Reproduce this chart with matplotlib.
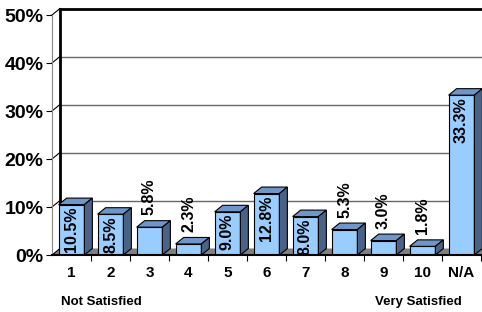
import matplotlib.pyplot as plt
from matplotlib.patches import Polygon

plt.rcParams['font.family'] = ['Liberation Sans', 'DejaVu Sans']

categories = ['1', '2', '3', '4', '5', '6', '7', '8', '9', '10', 'N/A']
values = [10.5, 8.5, 5.8, 2.3, 9.0, 12.8, 8.0, 5.3, 3.0, 1.8, 33.3]
labels = ['10.5%', '8.5%', '5.8%', '2.3%', '9.0%', '12.8%', '8.0%', '5.3%', '3.0%', '1.8%', '33.3%']
yticks = [0, 10, 20, 30, 40, 50]

front = '#99ccff'
top = '#6e96c8'
side = '#4a6285'

fig = plt.figure(figsize=(4.82, 3.12), dpi=100)
ax = fig.add_axes([52/482, 57/312, 429/482, 240/312])
ax.set_xlim(-0.5, len(categories) - 0.5)
ax.set_ylim(0, 50)

# depth of the fake 3d, in data units
dx = 8/39
dy = 6.5/4.8
x0, x1 = -0.5, len(categories) - 0.5

# floor
ax.add_patch(Polygon([(x0, 0), (x1, 0), (x1 + dx, dy), (x0 + dx, dy)],
                     closed=True, facecolor='#808080', edgecolor='none', zorder=1, clip_on=False))

# back wall grid
for g in yticks[1:-1]:
    ax.plot([x0 + dx, x1 + dx + 1], [g + dy, g + dy], color='#666666', lw=1, zorder=1, clip_on=False)
ax.plot([x0 + dx, x1 + dx + 1], [50 + dy, 50 + dy], color='black', lw=2, zorder=1, clip_on=False)
ax.plot([x0 + dx, x0 + dx], [dy, 50 + dy], color='black', lw=2, zorder=1, clip_on=False)
for g in yticks:
    ax.plot([x0, x0 + dx], [g, g + dy], color='black', lw=0.8, zorder=1, clip_on=False)

x = list(range(len(categories)))
w = 0.66
ax.bar(x, values, width=w, color=front, edgecolor='black', lw=0.8, zorder=3)
for xi, v, lab in zip(x, values, labels):
    a, b = xi - w/2, xi + w/2
    ax.add_patch(Polygon([(a, v), (b, v), (b + dx, v + dy), (a + dx, v + dy)],
                         closed=True, facecolor=top, edgecolor='black', lw=0.8, zorder=3, clip_on=False))
    ax.add_patch(Polygon([(b, 0), (b + dx, dy), (b + dx, v + dy), (b, v)],
                         closed=True, facecolor=side, edgecolor='black', lw=0.8, zorder=3, clip_on=False))
    if v >= 8:
        ax.annotate(lab, (xi, v), xytext=(0, -1.5), textcoords='offset points', rotation=90,
                    ha='center', va='top', fontsize=11.5, fontweight='bold', zorder=4)
    else:
        ax.annotate(lab, (xi, v + dy), xytext=(0, 4), textcoords='offset points', rotation=90,
                    ha='center', va='bottom', fontsize=11.5, fontweight='bold', zorder=4)

ax.spines['top'].set_visible(False)
ax.spines['right'].set_visible(False)
ax.spines['left'].set_color('#888888')
ax.spines['bottom'].set_linewidth(1.5)
ax.spines['bottom'].set_zorder(5)

ax.set_yticks(yticks)
ax.set_yticklabels([f'{t}%' for t in yticks], fontsize=14, fontweight='bold')
ax.tick_params(axis='y', length=4, width=0.8, pad=2)
ax.set_xticks(x)
ax.set_xticklabels(categories, fontsize=11, fontweight='bold')
ax.set_xticks([i + 0.5 for i in x], minor=True)
ax.tick_params(axis='x', which='major', length=0, pad=8)
ax.tick_params(axis='x', which='minor', length=4, width=0.8)

fig.text(101/482, 1 - 302/312, 'Not Satisfied', ha='center', va='center', fontsize=9.5, fontweight='bold')
fig.text(418/482, 1 - 302/312, 'Very Satisfied', ha='center', va='center', fontsize=9.5, fontweight='bold')

fig.savefig('out.png', dpi=100)
